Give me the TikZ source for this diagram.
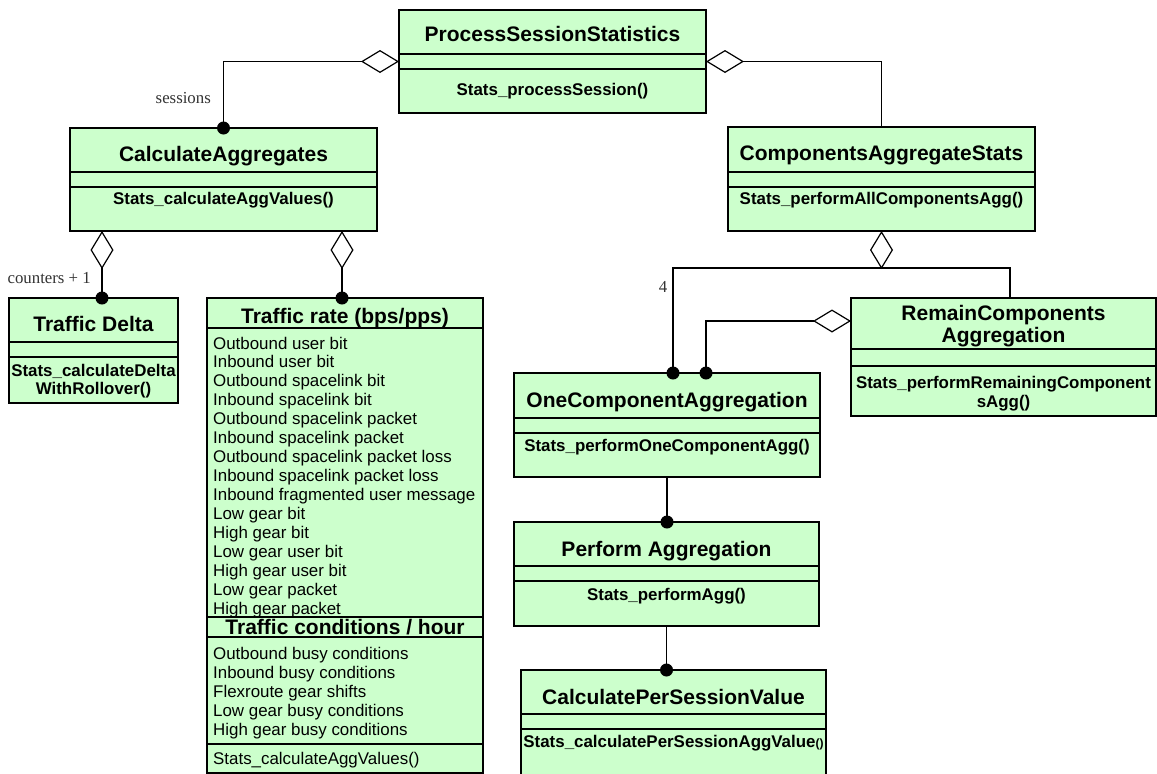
\documentclass[tikz,border=0pt]{standalone}
\usepackage{fontspec}
\setmainfont{Liberation Sans}
\newfontfamily\serifl{Liberation Serif}
\usetikzlibrary{arrows.meta}
\definecolor{boxgreen}{HTML}{CCFFCC}
\definecolor{lblgray}{HTML}{333333}
\newcommand\ttlfont{\fontsize{21}{21}\selectfont\bfseries}
\newcommand\methfont{\fontsize{16.9}{18}\selectfont\bfseries}
\newcommand\itemfont{\fontsize{16.9}{18}\selectfont}
\newcommand\lblfont{\serifl\fontsize{16.8}{18}\selectfont}

\begin{document}
\begin{tikzpicture}[x=1pt,y=-1pt,
  box/.style={draw=black, fill=boxgreen, line width=1.2pt, inner sep=0pt, outer sep=0pt, anchor=north west},
  div/.style={line width=1.2pt},
  conn/.style={line width=1.2pt},
  agg/.style={-{Diamond[length=38pt,width=23pt,fill=white,line join=miter]}},
  ttl/.style={anchor=base, inner sep=0pt, font=\ttlfont},
  meth/.style={anchor=base, inner sep=0pt, font=\methfont},
  item/.style={anchor=base west, inner sep=0pt, font=\itemfont},
  lbl/.style={inner sep=0pt, font=\lblfont, text=lblgray}]

\fill[white] (0,0) rectangle (1157,774);
\useasboundingbox (0,0) rectangle (1157,774);
\clip (0,0) rectangle (1157,774);

% ---- class boxes ----
\node[box, minimum width=307pt, minimum height=103pt] (pss)  at (399,10)  {};
\node[box, minimum width=307pt, minimum height=103pt] (ca)   at (70,128)  {};
\node[box, minimum width=307pt, minimum height=104pt] (cas)  at (728,127) {};
\node[box, minimum width=169pt, minimum height=105pt] (td)   at (9,298)   {};
\node[box, minimum width=276pt, minimum height=475pt] (tr)   at (207,298) {};
\node[box, minimum width=306pt, minimum height=104pt] (oca)  at (514,373) {};
\node[box, minimum width=305pt, minimum height=118pt] (rca)  at (851,298) {};
\node[box, minimum width=305pt, minimum height=104pt] (pa)   at (514,522) {};
\node[box, minimum width=305pt, minimum height=110pt] (cpsv) at (521,670) {};

% ---- compartment dividers ----
\foreach \b/\ya/\yb in {pss/54/69, ca/172/187, cas/172/187, td/342/357,
                        oca/418/433, rca/349/366, pa/566/581, cpsv/714/729} {
  \draw[div] (\b.west |- 0,\ya) -- (\b.east |- 0,\ya);
  \draw[div] (\b.west |- 0,\yb) -- (\b.east |- 0,\yb);
}
\foreach \ya in {328,617,637,744}
  \draw[div] (tr.west |- 0,\ya) -- (tr.east |- 0,\ya);

% ---- class names and operations ----
\node[ttl]  (pss-t) at (pss.north |- 0,41) {ProcessSessionStatistics};
\node[meth] (pss-m) at (pss.north |- 0,95) {Stats\_processSession()};

\node[ttl]  (ca-t) at (ca.north |- 0,161) {CalculateAggregates};
\node[meth] (ca-m) at (ca.north |- 0,204) {Stats\_calculateAggValues()};

\node[ttl]  (cas-t) at (cas.north |- 0,160) {ComponentsAggregateStats};
\node[meth] (cas-m) at (cas.north |- 0,204) {Stats\_performAllComponentsAgg()};

\node[ttl]  (td-t)  at (td.north |- 0,331) {Traffic Delta};
\node[meth] (td-m1) at (td.north |- 0,376) {Stats\_calculateDelta};
\node[meth] (td-m2) at (td.north |- 0,394) {WithRollover()};

\node[ttl]  (oca-t) at (oca.north |- 0,407) {OneComponentAggregation};
\node[meth] (oca-m) at (oca.north |- 0,451) {Stats\_performOneComponentAgg()};

\node[ttl]  (rca-t1) at (rca.north |- 0,320) {RemainComponents};
\node[ttl]  (rca-t2) at (rca.north |- 0,342) {Aggregation};
\node[meth] (rca-m1) at (rca.north |- 0,388) {Stats\_performRemainingComponent};
\node[meth] (rca-m2) at (rca.north |- 0,407) {sAgg()};

\node[ttl]  (pa-t) at (pa.north |- 0,556) {Perform Aggregation};
\node[meth] (pa-m) at (pa.north |- 0,600) {Stats\_performAgg()};

\node[ttl]  (cpsv-t) at (cpsv.north |- 0,704) {CalculatePerSessionValue};
\node[meth] (cpsv-m) at (cpsv.north |- 0,747) {Stats\_calculatePerSessionAggValue{\fontsize{12}{12}\selectfont()}};

% ---- traffic attribute lists ----
\node[ttl] (tr-t1) at (tr.north |- 0,323) {Traffic rate (bps/pps)};
\foreach [count=\i] \t in {Outbound user bit, Inbound user bit, Outbound spacelink bit,
    Inbound spacelink bit, Outbound spacelink packet, Inbound spacelink packet,
    Outbound spacelink packet loss, Inbound spacelink packet loss,
    Inbound fragmented user message, Low gear bit, High gear bit, Low gear user bit,
    High gear user bit, Low gear packet, High gear packet}
  \node[item] (tr-a\i) at (213,{349+18.93*(\i-1)}) {\t};

\node[ttl] (tr-t2) at (tr.north |- 0,634) {Traffic conditions / hour};
\foreach [count=\i] \t in {Outbound busy conditions, Inbound busy conditions,
    Flexroute gear shifts, Low gear busy conditions, High gear busy conditions}
  \node[item] (tr-b\i) at (213,{659+19*(\i-1)}) {\t};

\node[item] (tr-m) at (213,764) {Stats\_calculateAggValues()};

% ---- aggregation connectors ----
\draw[conn, agg] (ca.north) |- (pss.west);
\draw[conn, agg] (cas.north) |- (pss.east);
\draw[conn, agg] ([xshift=8.5pt]td.north) -- ([xshift=8.5pt]td.north |- ca.south);
\draw[conn, agg] ([xshift=-3pt]tr.north) -- ([xshift=-3pt]tr.north |- ca.south);

\coordinate (cj) at (cas.south |- 0,268);
\draw[conn, agg] (cj) -- (cas.south);
\draw[conn] ([xshift=6pt]oca.north) |- (cj) -| ([xshift=6.5pt]rca.north);
\draw[conn, agg] ([xshift=39pt]oca.north) |- ([yshift=36pt]rca.west);

\draw[conn] (oca.south) -- (oca.south |- pa.north);
\draw[conn] (pa.south) -- (pa.south |- cpsv.north);

% ---- association end dots ----
\foreach \p in {(ca.north), ([xshift=8.5pt]td.north), ([xshift=-3pt]tr.north),
                ([xshift=6pt]oca.north), ([xshift=39pt]oca.north),
                (oca.south |- pa.north), (pa.south |- cpsv.north)}
  \fill \p circle (6.5pt);

% ---- multiplicity labels ----
\node[lbl, anchor=base east] (l-sess) at (211,103) {sessions};
\node[lbl, anchor=base east] (l-cnt)  at (91,283)  {counters + 1};
\node[lbl, anchor=base]      (l-four) at (663,292) {4};

\end{tikzpicture}
\end{document}
